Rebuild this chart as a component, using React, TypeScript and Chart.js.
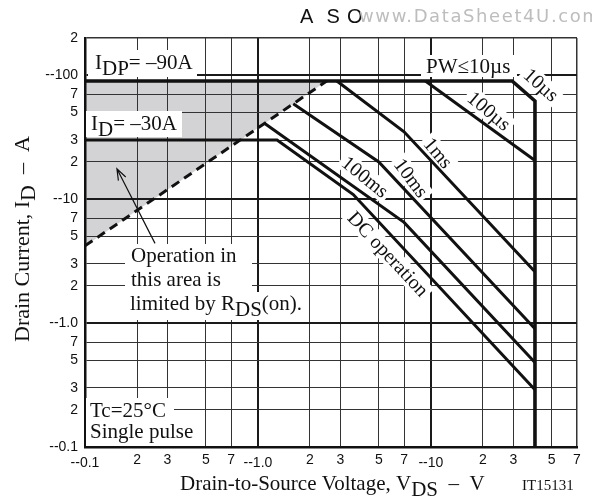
import React, { useEffect, useRef } from 'react';
import { Chart, registerables } from 'chart.js';

Chart.register(...registerables);

// Axis ticks (log scales, magnitudes of the negative quantities)
const xTickValues = [0.1, 0.2, 0.3, 0.5, 0.7, 1, 2, 3, 5, 7, 10, 20, 30, 50, 70];
const xTickLabels = ['--0.1', '2', '3', '5', '7', '--1.0', '2', '3', '5', '7', '--10', '2', '3', '5', '7'];
const yTickValues = [0.1, 0.2, 0.3, 0.5, 0.7, 1, 2, 3, 5, 7, 10, 20, 30, 50, 70, 100, 200];
const yTickLabels = ['--0.1', '2', '3', '5', '7', '--1.0', '2', '3', '5', '7', '--10', '2', '3', '5', '7', '--100', '2'];

// Safe operating area boundaries: |VDS| in V, |ID| in A
const idpLimitVds = [0.1, 29.5, 40, 40];
const idpLimitId = [90, 90, 62, 0.1];
const rdsOnVds = [0.1, 2.5];
const rdsOnId = [4.2, 90];
const pw100usVds = [9.3, 40];
const pw100usId = [90, 20.5];
const pw1msVds = [2.86, 7, 40];
const pw1msId = [90, 35, 2.6];
const pw10msVds = [1.6, 5, 40];
const pw10msId = [59, 20, 0.9];
const pw100msVds = [1.09, 7, 40];
const pw100msId = [41, 6.5, 0.48];
const dcVds = [0.1, 1.29, 3.56, 40];
const dcId = [30, 30, 10.9, 0.29];
const arrowVds = [0.254, 0.153];
const arrowId = [4.4, 17.6];

const SERIF = '"Liberation Serif", "Times New Roman", serif';
const SANS = '"Liberation Sans", Arial, sans-serif';
const INK = '#111';
const NOTE_FONT = `21px ${SERIF}`;
const SUB_SHIFT = 6;

type Part = { t: string; sub?: boolean };

const notes: { parts: Part[]; x: number; y: number }[] = [
  { parts: [{ t: 'I' }, { t: 'DP', sub: true }, { t: '= –90A' }], x: 95, y: 69 },
  { parts: [{ t: 'I' }, { t: 'D', sub: true }, { t: '= –30A' }], x: 91, y: 130 },
  { parts: [{ t: 'PW≤10µs' }], x: 426, y: 73 },
  { parts: [{ t: 'Operation in' }], x: 131, y: 262 },
  { parts: [{ t: 'this area is' }], x: 131, y: 286 },
  { parts: [{ t: 'limited by R' }, { t: 'DS', sub: true }, { t: '(on).' }], x: 130, y: 310 },
  { parts: [{ t: 'Tc=25°C' }], x: 90, y: 417 },
  { parts: [{ t: 'Single pulse' }], x: 90, y: 438 },
];

// white panels behind the notes: x, y, w, h
const noteBoxes = [
  [88, 50, 109, 27],
  [86, 111, 96, 26],
  [421, 55, 96, 22],
  [125, 244, 127, 48],
  [125, 292, 184, 28],
  [86, 398, 88, 22],
  [86, 420, 114, 26],
];

const curveLabels = [
  { text: '10µs', cx: 541, cy: 85, angle: 42 },
  { text: '100µs', cx: 489, cy: 111, angle: 40 },
  { text: '1ms', cx: 438, cy: 153, angle: 50 },
  { text: '10ms', cx: 411, cy: 178, angle: 53 },
  { text: '100ms', cx: 365, cy: 177, angle: 39 },
  { text: 'DC operation', cx: 388, cy: 254, angle: 47 },
];

function drawParts(ctx: CanvasRenderingContext2D, parts: Part[], x: number, y: number, font: string) {
  ctx.font = font;
  let cx = x;
  for (const p of parts) {
    ctx.fillText(p.t, cx, y + (p.sub ? SUB_SHIFT : 0));
    cx += ctx.measureText(p.t).width;
  }
}

function curveLabel(ctx: CanvasRenderingContext2D, l: { text: string; cx: number; cy: number; angle: number }, box: boolean) {
  ctx.save();
  ctx.translate(l.cx, l.cy);
  ctx.rotate((l.angle * Math.PI) / 180);
  ctx.font = `20px ${SERIF}`;
  const w = ctx.measureText(l.text).width;
  if (box) {
    ctx.fillStyle = '#fff';
    ctx.fillRect(-w / 2 - 3, -10, w + 6, 20);
  } else {
    ctx.fillStyle = INK;
    ctx.textAlign = 'center';
    ctx.textBaseline = 'middle';
    ctx.fillText(l.text, 0, 1);
  }
  ctx.restore();
}

const isDecade = (v: number) => [0.1, 1, 10, 100].some((d) => Math.abs(v - d) < 1e-9);

const asoPlugin = {
  id: 'asoDecor',
  beforeDraw(chart: any) {
    const { ctx, scales } = chart;
    const x = scales.x;
    const y = scales.y;
    ctx.save();
    ctx.fillStyle = '#fff';
    ctx.fillRect(0, 0, chart.width, chart.height);
    // region limited by RDS(on)
    ctx.beginPath();
    ctx.moveTo(x.getPixelForValue(rdsOnVds[0]), y.getPixelForValue(rdsOnId[0]));
    ctx.lineTo(x.getPixelForValue(rdsOnVds[1]), y.getPixelForValue(rdsOnId[1]));
    ctx.lineTo(x.getPixelForValue(rdsOnVds[0]), y.getPixelForValue(rdsOnId[1]));
    ctx.closePath();
    ctx.fillStyle = '#d3d3d5';
    ctx.fill();
    ctx.restore();
  },
  beforeDatasetsDraw(chart: any) {
    const { ctx } = chart;
    ctx.save();
    ctx.fillStyle = '#fff';
    for (const [bx, by, bw, bh] of noteBoxes) ctx.fillRect(bx, by, bw, bh);
    for (const l of curveLabels) curveLabel(ctx, l, true);
    ctx.restore();
  },
  afterDatasetsDraw(chart: any) {
    const { ctx, scales } = chart;
    const x = scales.x;
    const y = scales.y;
    ctx.save();
    ctx.fillStyle = INK;
    ctx.textBaseline = 'alphabetic';
    ctx.textAlign = 'left';
    for (const n of notes) drawParts(ctx, n.parts, n.x, n.y, NOTE_FONT);
    for (const l of curveLabels) curveLabel(ctx, l, false);

    // pointer into the shaded region
    const tx = x.getPixelForValue(arrowVds[0]);
    const ty = y.getPixelForValue(arrowId[0]);
    const hx = x.getPixelForValue(arrowVds[1]);
    const hy = y.getPixelForValue(arrowId[1]);
    const a = Math.atan2(hy - ty, hx - tx);
    ctx.strokeStyle = INK;
    ctx.lineWidth = 1.2;
    ctx.beginPath();
    ctx.moveTo(tx, ty);
    ctx.lineTo(hx, hy);
    ctx.moveTo(hx - 12 * Math.cos(a - 0.35), hy - 12 * Math.sin(a - 0.35));
    ctx.lineTo(hx, hy);
    ctx.lineTo(hx - 12 * Math.cos(a + 0.35), hy - 12 * Math.sin(a + 0.35));
    ctx.stroke();

    // axis titles
    drawParts(ctx, [{ t: 'Drain-to-Source Voltage, V' }, { t: 'DS', sub: true }, { t: '  –  V' }], 180, 490, `21px ${SERIF}`);
    ctx.font = `15px ${SERIF}`;
    ctx.fillText('IT15131', 522, 490);
    ctx.save();
    ctx.translate(29, 342);
    ctx.rotate(-Math.PI / 2);
    drawParts(ctx, [{ t: 'Drain Current, I' }, { t: 'D', sub: true }, { t: '  –  A' }], 0, 0, `22px ${SERIF}`);
    ctx.restore();

    // heading and source mark
    ctx.font = `20px ${SANS}`;
    ctx.fillStyle = INK;
    ctx.fillText('A', 300, 23);
    ctx.fillText('S', 326.5, 23);
    ctx.fillText('O', 347, 23);
    ctx.font = `18px "DejaVu Sans", sans-serif`;
    (ctx as any).letterSpacing = '1.6px';
    ctx.fillStyle = '#bdbdbd';
    ctx.fillText('www.DataSheet4U.com', 359, 22);
    (ctx as any).letterSpacing = '0px';
    ctx.restore();
  },
};

const xy = (xs: number[], ys: number[]) => xs.map((v, i) => ({ x: v, y: ys[i] }));

const line = (data: { x: number; y: number }[], width: number, dash: number[] = []) => ({
  data,
  showLine: true,
  borderColor: INK,
  borderWidth: width,
  borderDash: dash,
  borderJoinStyle: 'miter' as const,
  pointRadius: 0,
  fill: false,
});

export default function App() {
  const ref = useRef<HTMLCanvasElement>(null);

  useEffect(() => {
    if (!ref.current) return;
    const gridColor = (c: any) => (isDecade(c.tick?.value) ? '#1a1a1a' : '#333');
    const gridWidth = (edge: number) => (c: any) => {
      const v = c.tick?.value;
      if (isDecade(v)) return 2;
      if (Math.abs(v - edge) < 1e-9) return 1.5;
      return 1;
    };
    const chart = new Chart(ref.current, {
      type: 'scatter',
      data: {
        datasets: [
          line(xy(rdsOnVds, rdsOnId), 3, [9, 6]),
          line(xy(idpLimitVds, idpLimitId), 3.6),
          line(xy(pw100usVds, pw100usId), 3),
          line(xy(pw1msVds, pw1msId), 3),
          line(xy(pw10msVds, pw10msId), 3),
          line(xy(pw100msVds, pw100msId), 3),
          line(xy(dcVds, dcId), 3),
        ],
      },
      options: {
        animation: false,
        responsive: false,
        maintainAspectRatio: false,
        devicePixelRatio: 1,
        layout: { padding: { top: 38, right: 15, left: 0, bottom: 0 } },
        plugins: { legend: { display: false }, tooltip: { enabled: false } },
        scales: {
          x: {
            type: 'logarithmic',
            min: 0.1,
            max: 70,
            afterBuildTicks: (s: any) => {
              s.ticks = xTickValues.map((v) => ({ value: v }));
            },
            afterFit: (s: any) => {
              s.height = 53;
            },
            grid: { color: gridColor, lineWidth: gridWidth(70), drawTicks: false },
            border: { display: true, color: INK, width: 2.5 },
            ticks: {
              autoSkip: false,
              maxRotation: 0,
              padding: 5,
              color: INK,
              font: (c: any) => ({
                family: SANS,
                size: 14,
                lineHeight: isDecade(c.tick?.value) ? 1.6 : 1.2,
              }),
              callback: (_v: any, i: number) => xTickLabels[i],
            },
          },
          y: {
            type: 'logarithmic',
            min: 0.1,
            max: 200,
            afterBuildTicks: (s: any) => {
              s.ticks = yTickValues.map((v) => ({ value: v }));
            },
            afterFit: (s: any) => {
              s.width = 85;
            },
            grid: { color: gridColor, lineWidth: gridWidth(200), drawTicks: false },
            border: { display: true, color: INK, width: 2.5 },
            ticks: {
              autoSkip: false,
              padding: 7,
              color: INK,
              font: { family: SANS, size: 14 },
              callback: (_v: any, i: number) => yTickLabels[i],
            },
          },
        },
      } as any,
      plugins: [asoPlugin],
    });
    return () => chart.destroy();
  }, []);

  return (
    <div style={{ position: 'fixed', left: 0, top: 0, width: 592, height: 500, background: '#fff' }}>
      <canvas ref={ref} width={592} height={500} style={{ display: 'block', width: 592, height: 500 }} />
    </div>
  );
}
